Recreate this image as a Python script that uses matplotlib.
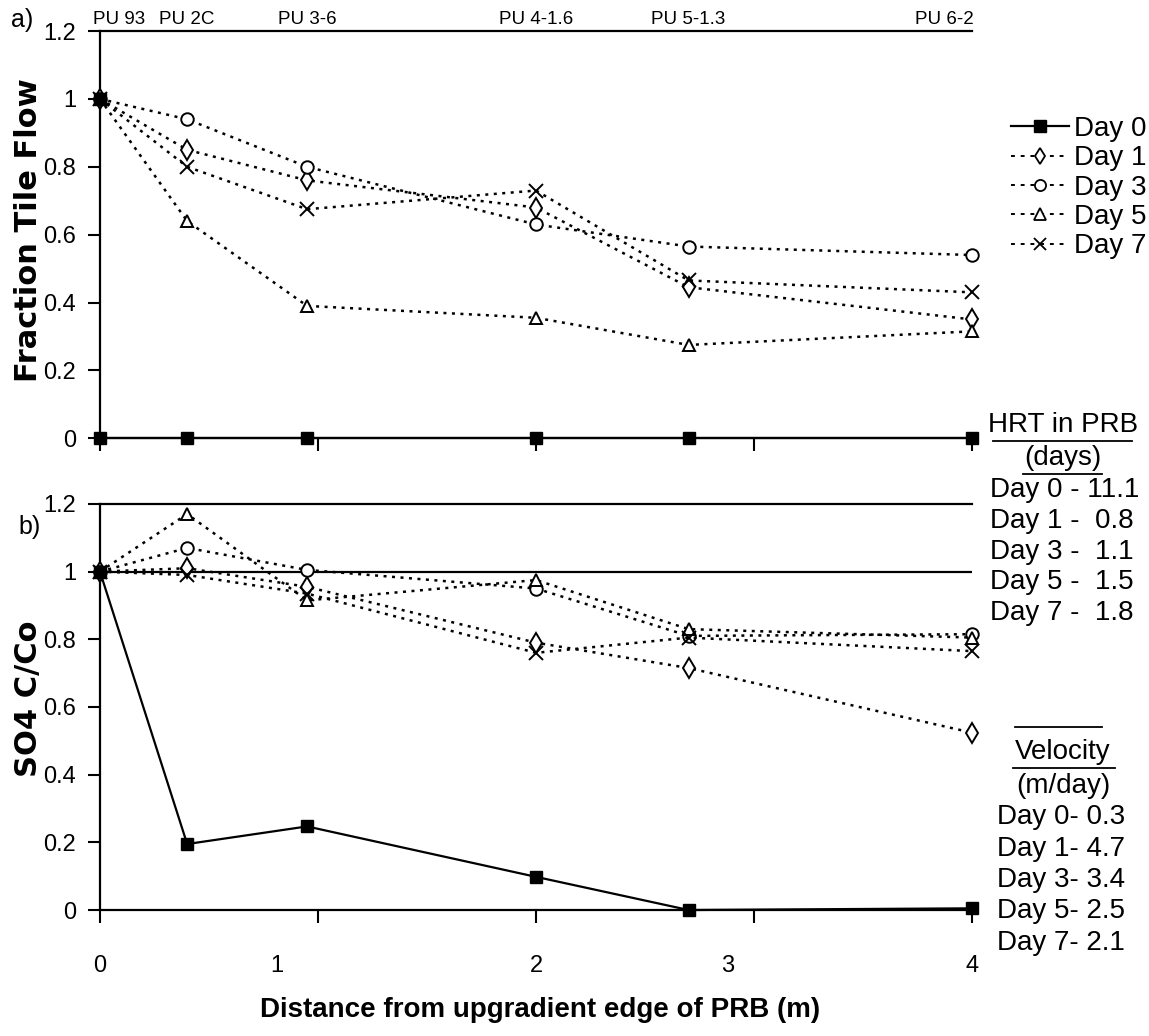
import matplotlib
matplotlib.use("Agg")
import matplotlib.pyplot as plt
from matplotlib.lines import Line2D

plt.rcParams['font.family'] = ['Liberation Sans', 'DejaVu Sans']

# data
distance = [0, 0.4, 0.95, 2.0, 2.7, 4.0]
wells = ['PU 93', 'PU 2C', 'PU 3-6', 'PU 4-1.6', 'PU 5-1.3', 'PU 6-2']
days = ['Day 0', 'Day 1', 'Day 3', 'Day 5', 'Day 7']

flow_day0 = [0, 0, 0, 0, 0, 0]
flow_day1 = [1.0, 0.85, 0.76, 0.68, 0.445, 0.35]
flow_day3 = [1.0, 0.94, 0.80, 0.63, 0.565, 0.54]
flow_day5 = [1.0, 0.64, 0.39, 0.355, 0.275, 0.315]
flow_day7 = [1.0, 0.80, 0.675, 0.73, 0.465, 0.43]

so4_day0 = [1.0, 0.195, 0.247, 0.098, 0.0, 0.005]
so4_day1 = [1.0, 1.01, 0.955, 0.79, 0.715, 0.524]
so4_day3 = [1.0, 1.07, 1.005, 0.95, 0.81, 0.815]
so4_day5 = [1.0, 1.17, 0.915, 0.975, 0.83, 0.805]
so4_day7 = [1.0, 0.99, 0.935, 0.76, 0.805, 0.765]

hrt = ['11.1', '0.8', '1.1', '1.5', '1.8']
velocity = ['0.3', '4.7', '3.4', '2.5', '2.1']

yticks = [0, 0.2, 0.4, 0.6, 0.8, 1.0, 1.2]
ytick_labels = ['0', '0.2', '0.4', '0.6', '0.8', '1', '1.2']
xticks = [0, 1, 2, 3, 4]
# label positions as printed in the original (slightly off the ticks)
xtick_label_pos = [0, 0.81, 2.0, 2.88, 4.0]

markers = ['s', 'd', 'o', '^', 'x']
msizes = [8.5, 10.5, 9, 9, 10]
dotted = (0, (1.2, 2.2))

fig = plt.figure(figsize=(11.49, 10.36), dpi=100)
ax1 = fig.add_axes([0.087, 0.577, 0.759, 0.393])
ax2 = fig.add_axes([0.087, 0.1216, 0.759, 0.392])


def style_axes(ax):
    ax.set_xlim(0, 4)
    ax.set_ylim(0, 1.2)
    ax.spines['right'].set_visible(False)
    for s in ['left', 'bottom', 'top']:
        ax.spines[s].set_linewidth(1.6)
    ax.set_yticks(yticks)
    ax.set_yticklabels(ytick_labels, fontsize=17)
    ax.set_xticks(xticks)
    ax.set_xticklabels([])
    ax.tick_params(axis='both', direction='out', length=9, width=1.5, pad=8)


def plot_series(ax, series):
    for i, (vals, m, s) in enumerate(zip(series, markers, msizes)):
        if i == 0:
            ax.plot(distance, vals, color='black', lw=1.6, marker=m, ms=s,
                    mfc='black', mec='black', clip_on=False, zorder=4)
        else:
            ax.plot(distance, vals, color='black', lw=1.8, linestyle=dotted,
                    marker=m, ms=s, mfc='white', mec='black', mew=1.4,
                    clip_on=False, zorder=3)


style_axes(ax1)
style_axes(ax2)

plot_series(ax1, [flow_day0, flow_day1, flow_day3, flow_day5, flow_day7])
ax1.plot([distance[0]], [1.0], marker='s', ms=8.5, color='black', clip_on=False, zorder=5)

plot_series(ax2, [so4_day0, so4_day1, so4_day3, so4_day5, so4_day7])
ax2.axhline(1.0, color='black', lw=1.6, zorder=2)

for pos, lab in zip(xtick_label_pos, xticks):
    ax2.text(pos, -0.138, str(lab), ha='center', va='center', fontsize=17,
             transform=ax2.get_xaxis_transform())

# well names along the top
for x, w in zip(distance, wells):
    ha = 'center'
    if x == distance[0]:
        ha = 'left'
        x = -0.03
    elif x == distance[-1]:
        ha = 'right'
        x = 4.01
    ax1.text(x, 1.21, w, ha=ha, va='bottom', fontsize=13.5)

ax1.set_ylabel('Fraction Tile Flow', fontsize=22, fontweight='bold',
               family='DejaVu Sans')
ax2.set_ylabel('SO4 C/Co', fontsize=22, fontweight='bold',
               family='DejaVu Sans')
ax1.yaxis.set_label_coords(-0.065, 0.51)
ax2.yaxis.set_label_coords(-0.065, 0.52)

fig.text(0.47, 0.025, 'Distance from upgradient edge of PRB (m)', ha='center',
         va='center', fontsize=20, fontweight='bold')

fig.text(0.010, 1 - 20 / 1036, 'a)', fontsize=18, va='center')
fig.text(0.016, 1 - 527 / 1036, 'b)', fontsize=18, va='center')

# legend
handles = []
for i, (d, m) in enumerate(zip(days, markers)):
    if i == 0:
        handles.append(Line2D([], [], color='black', lw=1.6, marker=m, ms=9,
                              mfc='black'))
    else:
        handles.append(Line2D([], [], color='black', lw=1.4, linestyle=(0, (2, 3)),
                              marker=m, ms=8, mfc='white', mew=1.3))
fig.legend(handles, days, loc='upper right', bbox_to_anchor=(1147 / 1149, 1 - 116 / 1036),
           frameon=False, handlelength=2.1, handletextpad=0.2, borderpad=0,
           borderaxespad=0, labelspacing=0.12, prop={'family': 'Liberation Sans', 'size': 20})

# HRT block
W, H = 1149, 1036
txt = dict(fontsize=20, family='Liberation Sans', va='center')
fig.text(1063 / W, 1 - 425 / H, 'HRT in PRB', ha='center', **txt)
fig.add_artist(Line2D([993 / W, 1132 / W], [1 - 441 / H, 1 - 441 / H],
                      color='black', lw=1.3))
fig.text(1063 / W, 1 - 458 / H, '(days)', ha='center', **txt)
fig.add_artist(Line2D([1023 / W, 1102 / W], [1 - 474 / H, 1 - 474 / H],
                      color='black', lw=1.3))
for i, (d, v) in enumerate(zip(days, hrt)):
    fig.text(990 / W, 1 - (490 + i * 30.8) / H, f'{d} -  {v}' if i else f'{d} - {v}',
             ha='left', **txt)

# velocity block
fig.add_artist(Line2D([1015 / W, 1102 / W], [1 - 727 / H, 1 - 727 / H],
                      color='black', lw=1.3))
fig.text(1063 / W, 1 - 752 / H, 'Velocity', ha='center', **txt)
fig.add_artist(Line2D([1013 / W, 1115 / W], [1 - 768 / H, 1 - 768 / H],
                      color='black', lw=1.3))
fig.text(1063 / W, 1 - 786 / H, '(m/day)', ha='center', **txt)
for i, (d, v) in enumerate(zip(days, velocity)):
    fig.text(997 / W, 1 - (817 + i * 31.5) / H, f'{d}- {v}', ha='left', **txt)

fig.savefig('out.png', dpi=100)
